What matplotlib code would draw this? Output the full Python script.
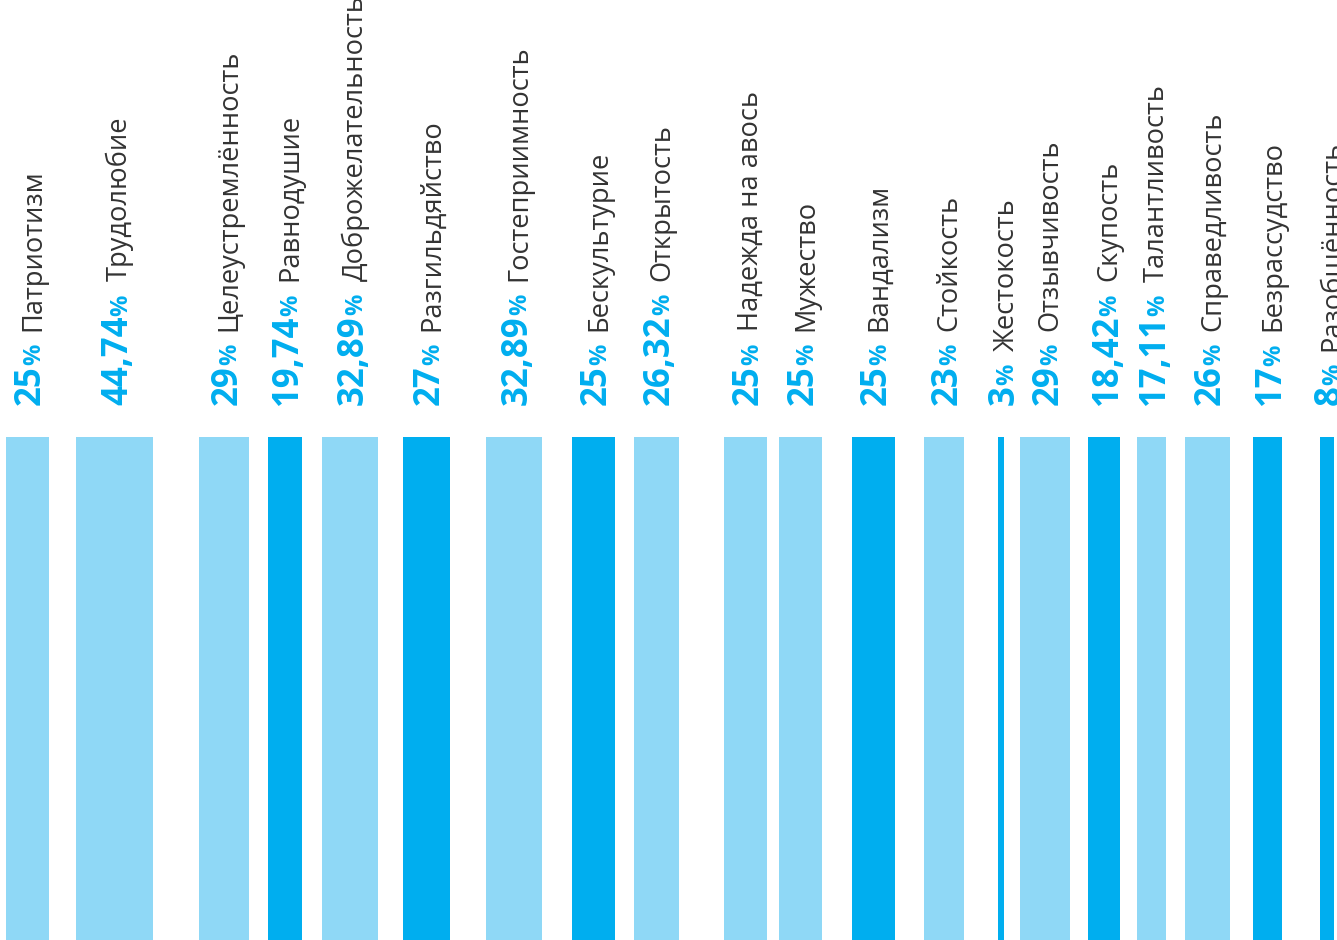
import matplotlib
matplotlib.use("Agg")
import matplotlib.pyplot as plt

# --- data ---
traits = ["Патриотизм", "Трудолюбие", "Целеустремлённость", "Равнодушие",
          "Доброжелательность", "Разгильдяйство", "Гостеприимность", "Бескультурие",
          "Открытость", "Надежда на авось", "Мужество", "Вандализм", "Стойкость",
          "Жестокость", "Отзывчивость", "Скупость", "Талантливость", "Справедливость",
          "Безрассудство", "Разобщённость"]
shares = [25, 44.74, 29, 19.74, 32.89, 27, 32.89, 25, 26.32, 25,
          25, 25, 23, 3, 29, 18.42, 17.11, 26, 17, 8]
kind = ["pos", "pos", "pos", "neg", "pos", "neg", "pos", "neg", "pos", "pos",
        "pos", "neg", "pos", "neg", "pos", "neg", "pos", "pos", "neg", "neg"]

# --- layout (pixels) ---
centers = [27.5, 114.5, 224, 285, 350, 426.5, 514, 593.5, 656.5, 745.5,
           800.5, 873.5, 944, 1001, 1045, 1104, 1151.5, 1207.5, 1267.5, 1327]
px_per_pct = 1.705
bar_top, bar_bottom = 437, 940
text_base = 405
W, H = 1337, 940

light = "#8FD8F6"
dark = "#00AEEF"
grey = "#333333"
font = "Open Sans"

fig = plt.figure(figsize=(W / 100, H / 100), dpi=100)
ax = fig.add_axes([0, 0, 1, 1])
ax.set_xlim(0, W)
ax.set_ylim(H, 0)
ax.axis("off")

colors = [light if k == "pos" else dark for k in kind]
widths = [s * px_per_pct for s in shares]
ax.bar(centers, bar_bottom - bar_top, width=widths, bottom=bar_top,
       color=colors, linewidth=0)

# rotated labels: bold number, smaller %, then the trait name
r = fig.canvas.get_renderer()
for name, s, c in zip(traits, shares, centers):
    num = f"{s:g}".replace(".", ",")
    pieces = [(num, 25, "bold", dark, 0),
              ("%", 17, "bold", dark, 13),
              (name, 19.6, "normal", grey, 0)]
    x = c + 12.5
    y = text_base
    for txt, size, weight, col, gap in pieces:
        t = ax.text(x, y, txt, rotation=90, rotation_mode="anchor",
                    ha="left", va="baseline", fontsize=size,
                    fontweight=weight, color=col, family=font)
        y -= t.get_window_extent(r).height + gap

fig.savefig("out.png", dpi=100)
